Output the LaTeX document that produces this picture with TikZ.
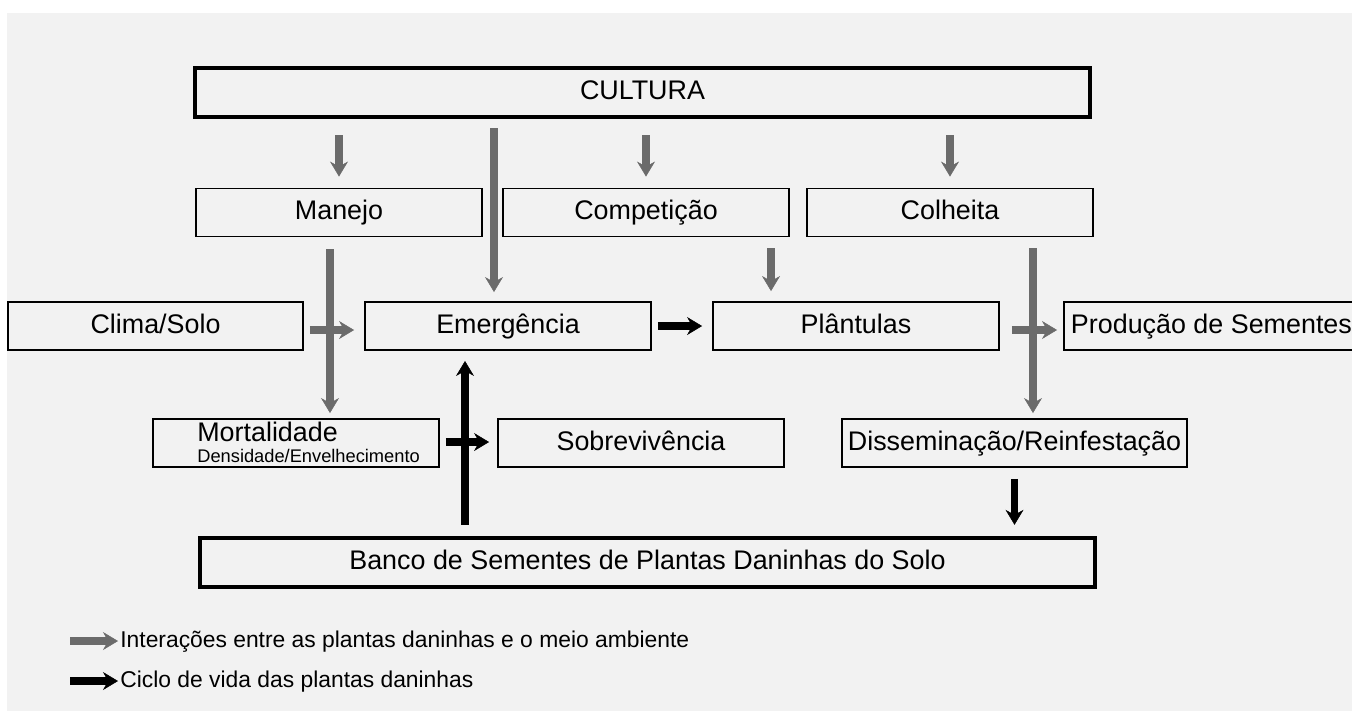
\documentclass[tikz,border=0pt]{standalone}
\usepackage{fontspec}
\setmainfont{Liberation Sans}
\usetikzlibrary{arrows.meta}

\definecolor{fundo}{HTML}{F2F2F2}
\definecolor{cinza}{HTML}{6B6B6B}

\tikzset{
  caixa/.style={draw=black, line width=1.1pt, inner sep=0pt,
    minimum width=5.72cm, minimum height=0.96cm,
    text height=11pt, text depth=3pt,
    font=\fontsize{15.3}{18}\selectfont},
  caixagrossa/.style={caixa, line width=2.5pt, minimum height=0.98cm},
  interacao/.style={draw=cinza, line width=4.4pt,
    -{Stealth[length=0.3cm, width=0.36cm, inset=0.1cm, line width=0.3pt]}},
  ciclo/.style={interacao, draw=black},
  legenda/.style={inner sep=0pt, font=\fontsize{13}{15}\selectfont}
}

\begin{document}
\begin{tikzpicture}[x=0.02cm, y=-0.02cm] % 1 unit = 1 pixel, y downward
  % ---- page and background ----
  \useasboundingbox (0,0) rectangle (1352,711);
  \fill[fundo] (7,13) rectangle (1352,711);

  % ---- boxes ----
  \node[caixagrossa, minimum width=17.9cm] (cultura) at (642.5,92.5) {CULTURA};

  \node[caixa] (manejo) at (339,212.5) {Manejo};
  \node[caixa] (competicao) at (646,212.5) {Competição};
  \node[caixa] (colheita) at (950,212.5) {Colheita};

  \node[caixa, minimum width=5.9cm] (clima) at (155.5,326) {Clima/Solo};
  \node[caixa] (emergencia) at (508,326) {Emergência};
  \node[caixa] (plantulas) at (856,326) {Plântulas};
  \node[caixa, minimum width=0pt, inner xsep=0.14cm, anchor=west] (producao) at (1063,326) {Produção de Sementes};

  \node[caixa] (mortalidade) at (296,443) {};
  \node[caixa] (sobrevivencia) at (641,443) {Sobrevivência};
  \node[caixa, minimum width=6.9cm] (disseminacao) at (1014.5,443) {Disseminação/Reinfestação};

  \node[caixagrossa, minimum width=17.9cm] (banco) at (647.5,562.5) {Banco de Sementes de Plantas Daninhas do Solo};

  % two lines of Mortalidade, left aligned
  \node[anchor=base west, inner sep=0pt, font=\fontsize{15.3}{18}\selectfont] (mort-titulo) at (197,441) {Mortalidade};
  \node[anchor=base west, inner sep=0pt, font=\fontsize{10.4}{12}\selectfont] (mort-sub) at (197,462) {Densidade/Envelhecimento};

  % ---- grey arrows (interactions) ----
  \draw[interacao, shorten <=0.32cm, shorten >=0.22cm] (cultura.south -| manejo) -- (manejo.north);
  \draw[interacao, shorten <=0.32cm, shorten >=0.22cm] (cultura.south -| competicao) -- (competicao.north);
  \draw[interacao, shorten <=0.32cm, shorten >=0.22cm] (cultura.south -| colheita) -- (colheita.north);
  \draw[interacao, shorten <=0.18cm, shorten >=0.18cm] ([xshift=-0.28cm]emergencia.north |- cultura.south) -- ([xshift=-0.28cm]emergencia.north);
  \draw[interacao, shorten <=0.22cm, shorten >=0.2cm] ([xshift=-1.7cm]plantulas.north |- competicao.south) -- ([xshift=-1.7cm]plantulas.north);
  \draw[interacao, shorten <=0.24cm, shorten >=0.1cm] ([xshift=-0.18cm]manejo.south) -- ([xshift=-0.18cm]manejo.south |- mortalidade.north);
  \draw[interacao, shorten <=0.22cm, shorten >=0.1cm] ([xshift=1.66cm]colheita.south) -- ([xshift=1.66cm]colheita.south |- disseminacao.north);
  \draw[interacao, shorten <=0.12cm, shorten >=0.2cm] ([yshift=-0.08cm]clima.east) -- ([yshift=-0.08cm]clima.east -| emergencia.west);
  \draw[interacao, shorten <=0.24cm, shorten >=0.12cm] ([yshift=-0.08cm]plantulas.east) -- ([yshift=-0.08cm]plantulas.east -| producao.west);

  % ---- black arrows (life cycle) ----
  \draw[ciclo, shorten <=0.12cm, shorten >=0.2cm] (emergencia) -- (plantulas);
  \draw[ciclo, shorten <=0.12cm, shorten >=0.16cm] ([yshift=0.02cm]mortalidade.east) -- ([yshift=0.02cm]mortalidade.east -| sobrevivencia.west);
  \draw[ciclo, shorten <=0.22cm, shorten >=0.2cm] ([xshift=-0.86cm]emergencia.south |- banco.north) -- ([xshift=-0.86cm]emergencia.south);
  \draw[ciclo, shorten <=0.22cm, shorten >=0.22cm] (disseminacao.south) -- (disseminacao.south |- banco.north);

  % ---- legend ----
  \coordinate (leg-a) at (70,641);
  \coordinate (leg-b) at (70,681);
  \node[legenda, anchor=base west] (leg-interacao) at (120,647) {Interações entre as plantas daninhas e o meio ambiente};
  \node[legenda, anchor=base west] (leg-ciclo) at (120,687) {Ciclo de vida das plantas daninhas};
  \draw[interacao, shorten >=0.04cm] (leg-a) -- (leg-a -| leg-interacao.west);
  \draw[ciclo, shorten >=0.04cm] (leg-b) -- (leg-b -| leg-ciclo.west);

\end{tikzpicture}
\end{document}
